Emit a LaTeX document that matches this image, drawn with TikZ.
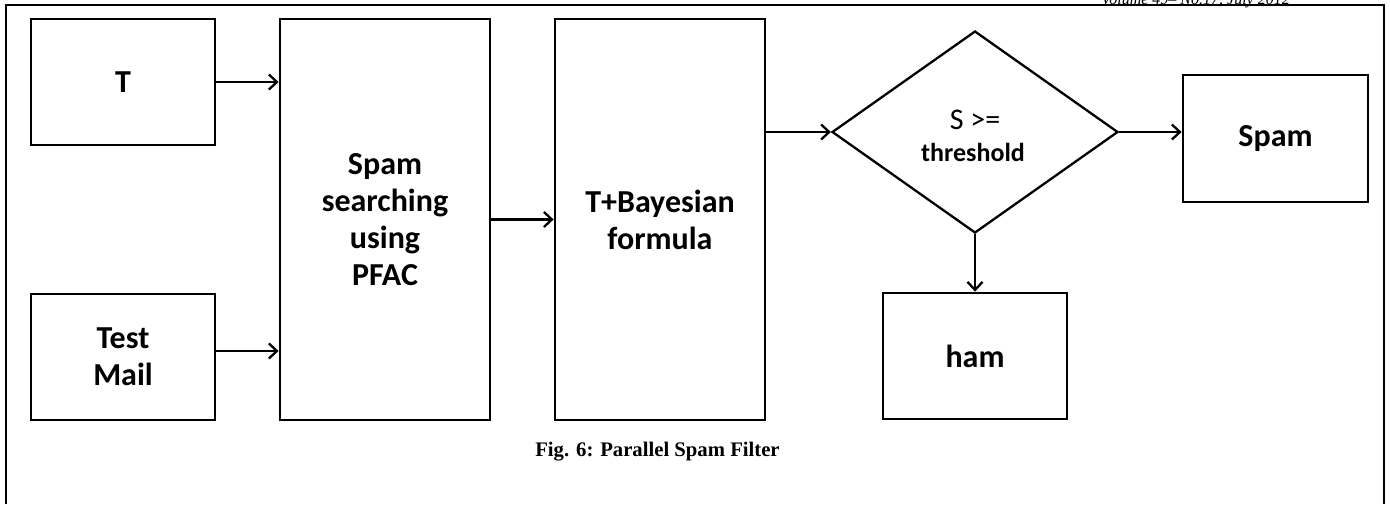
\documentclass[tikz,border=0pt]{standalone}
\usepackage{fontspec}
\setmainfont{Liberation Serif}
\newfontfamily\boxfont{Carlito}
\usetikzlibrary{arrows.meta,shapes.geometric}

\begin{document}
\begin{tikzpicture}[
  x=1pt, y=-1pt,
  stepbox/.style={draw, line width=2.8pt, inner sep=0pt, align=center,
    font=\boxfont\bfseries\fontsize{32}{37}\selectfont},
  decision/.style={draw, diamond, line width=2.3pt, inner sep=0pt,
    aspect=1.42, minimum width=286pt, minimum height=202pt},
  decisiontext/.style={inner sep=0pt, font=\boxfont\fontsize{26}{30}\selectfont},
  flow/.style={line width=2.3pt, -{Straight Barb[length=8pt,width=15pt,line width=2.3pt]}},
  frame/.style={line width=2pt}
]
\clip (0,0) rectangle (1390,504);
\useasboundingbox (0,0) rectangle (1390,504);

% running header of the page, cut by the top edge
\node[anchor=base east, inner sep=0pt, font=\itshape\fontsize{16}{18}\selectfont] (hdr) at (1290,4)
  {Volume 49-- No.17, July 2012};

% figure frame
\coordinate (fbl) at (6,504);
\coordinate (ftl) at (6,4.5);
\coordinate (ftr) at (1384,4.5);
\coordinate (fbr) at (1384,504);
\draw[frame] (fbl) -- (ftl) -- (ftr) -- (fbr);

% inputs
\node[stepbox, minimum width=184pt, minimum height=126pt] (t) at (123,82) {T};
\node[stepbox, minimum width=184pt, minimum height=126pt] (mail) at (123,357) {Test\\Mail};

% processing stages
\node[stepbox, minimum width=210pt, minimum height=401pt] (pfac) at (385,219.5)
  {Spam\\searching\\using\\PFAC};
\node[stepbox, minimum width=210pt, minimum height=401pt] (bayes) at (660,219.5)
  {T+Bayesian\\formula};

% decision
\node[decision] (dec) at (975,132) {};
\node[decisiontext, font=\boxfont\fontsize{30}{30}\selectfont] (cond1) at (975,120) {S >=};
\node[decisiontext, font=\boxfont\bfseries\fontsize{26}{30}\selectfont] (cond2) at (973,152) {threshold};

% outcomes
\node[stepbox, minimum width=185pt, minimum height=127pt] (spam) at (1275.5,138.5) {Spam};
\node[stepbox, minimum width=184pt, minimum height=126pt] (ham) at (975,356) {ham};

% connectors
\draw[flow] (t.east) -- (t.east -| pfac.west);
\draw[flow] (mail.east |- 0,351) -- (pfac.west |- 0,351);
\draw[flow] (pfac.east) -- (bayes.west);
\draw[flow] (bayes.east |- dec.west) -- (dec.west);
\draw[flow] (dec.east) -- (dec.east -| spam.west);
\draw[flow] (dec.south) -- (ham.north);

% caption
\node[font=\bfseries\fontsize{20.7}{24}\selectfont, inner sep=0pt] (cap) at (657.5,452)
  {Fig. 6: Parallel Spam Filter};
\end{tikzpicture}
\end{document}
